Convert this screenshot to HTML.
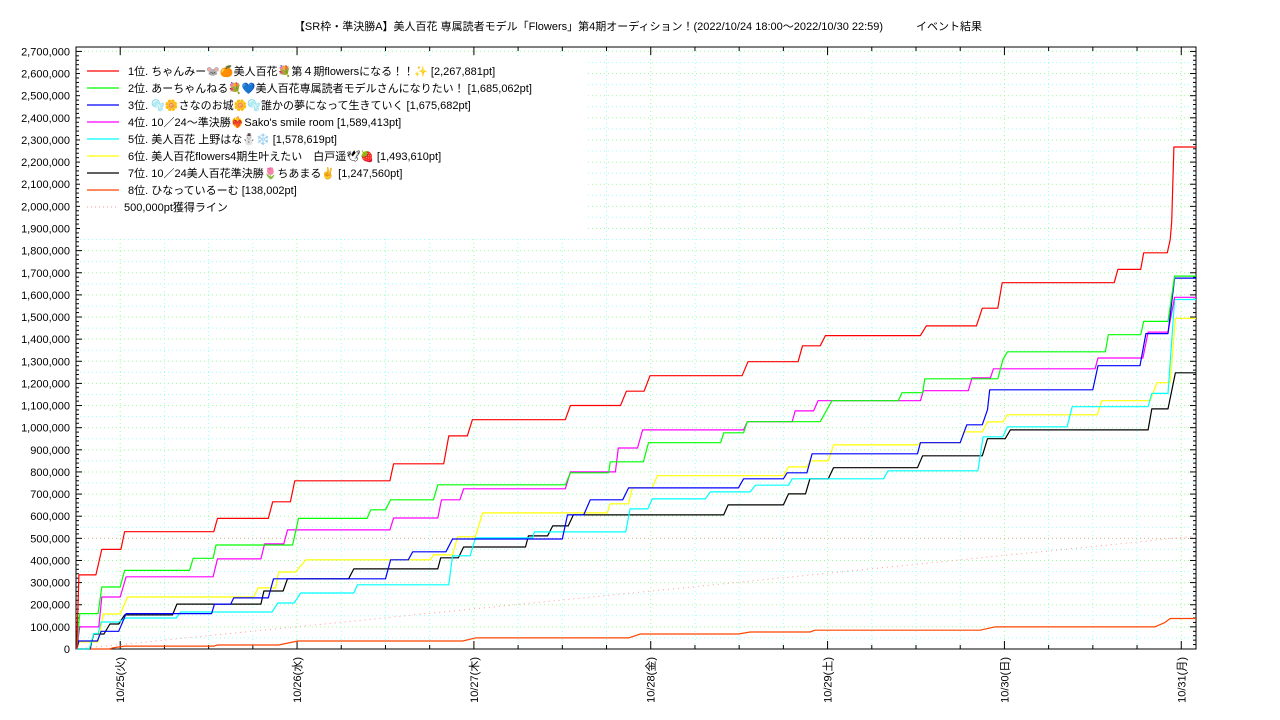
<!DOCTYPE html>
<html><head><meta charset="utf-8">
<style>
html,body{margin:0;padding:0;background:#fff;}
svg{display:block;font-family:"Liberation Sans","Noto Sans CJK JP",sans-serif;}
</style></head>
<body>
<svg id="chart" width="1280" height="720" viewBox="0 0 1280 720">
<text x="638" y="30" text-anchor="middle" font-size="11" fill="#000">【SR枠・準決勝A】美人百花 専属読者モデル「Flowers」第4期オーディション！(2022/10/24 18:00〜2022/10/30 22:59)　　　イベント結果</text>
<g id="grid"></g>
<g id="axes"></g>
<g id="series"></g>
<g id="legend"></g>
</svg>
<script>
// time in hours since 10/25 00:00, values in thousands of pt
const dayLabels = ["10/25(火)","10/26(水)","10/27(木)","10/28(金)","10/29(土)","10/30(日)","10/31(月)"];
const yTickValues = [0,100,200,300,400,500,600,700,800,900,1000,1100,1200,1300,1400,1500,1600,1700,1800,1900,2000,2100,2200,2300,2400,2500,2600,2700];
const seriesNames = [
 "1位. ちゃんみー🐭🍊美人百花💐第４期flowersになる！！✨ [2,267,881pt]",
 "2位. あーちゃんねる💐💙美人百花専属読者モデルさんになりたい！ [1,685,062pt]",
 "3位. 🫧🌼さなのお城🌼🫧誰かの夢になって生きていく [1,675,682pt]",
 "4位. 10／24〜準決勝❤️‍🔥Sako's smile room [1,589,413pt]",
 "5位. 美人百花 上野はな⛄️❄️ [1,578,619pt]",
 "6位. 美人百花flowers4期生叶えたい　白戸遥🕊🍓 [1,493,610pt]",
 "7位. 10／24美人百花準決勝🌷ちあまる✌️ [1,247,560pt]",
 "8位. ひなっているーむ [138,002pt]"
];
const seriesColors = ["#ff0000","#00ff00","#0000ff","#ff00ff","#00ffff","#ffff00","#000000","#ff4500"];
const t1 = [-5.9,-5.6,-3.3,-2.5,0.1,0.6,12.7,13.2,20.1,20.7,23.1,23.7,36.6,37.1,43.9,44.6,47.1,47.8,60.4,61.1,67.9,68.7,71.1,71.9,84.4,85.2,92.0,92.6,95.0,95.7,108.6,109.4,116.2,117.0,119.1,119.7,134.9,135.4,138.5,138.9,142.1,142.5,142.7,143.0,146];
const v1 = [0,335,335,450,450,530,530,590,590,665,665,760,760,837,837,963,963,1036,1036,1100,1100,1165,1165,1235,1235,1298,1298,1370,1370,1416,1416,1460,1460,1540,1540,1655,1655,1715,1715,1790,1790,1850,1930,2268,2268];
const t2 = [-5.9,-5.5,-3.0,-2.5,0.0,0.6,9.4,9.9,12.6,13.0,23.4,24.2,33.5,34.0,36.0,36.7,42.5,43.1,60.4,61.1,66.3,66.5,71.0,71.7,81.5,81.9,84.6,85.1,95.0,96.6,105.6,106.1,108.9,109.2,119.1,119.8,120.4,133.7,134.1,138.5,138.9,142.2,143.1,146];
const v2 = [0,160,160,280,280,355,355,410,410,470,470,590,590,629,629,674,674,742,742,796,796,846,846,932,932,977,977,1027,1027,1122,1122,1158,1158,1221,1221,1307,1343,1343,1420,1420,1480,1480,1685,1685];
const t3 = [-5.9,-5.6,-3.1,-2.6,-0.2,0.8,12.4,12.8,15.0,15.4,20.1,20.8,36.0,36.7,39.1,39.7,44.2,45.1,60.0,60.7,62.9,63.8,68.2,69.0,83.9,84.6,90.0,90.5,93.2,93.9,108.2,108.6,114.0,114.9,117.0,117.7,118.0,132.0,132.7,138.4,139.2,142.2,143.1,146];
const v3 = [0,36,36,80,80,160,160,203,203,231,231,317,317,403,403,439,439,497,497,606,606,674,674,728,728,769,769,796,796,882,882,932,932,1013,1013,1081,1171,1171,1280,1280,1425,1425,1676,1676];
const t4 = [-5.9,-5.5,-2.9,-2.5,0.0,0.8,12.6,13.2,19.1,19.6,22.2,22.7,36.6,37.1,43.1,43.6,46.1,46.6,60.4,61.1,67.2,67.6,70.2,70.9,84.6,85.1,91.2,91.6,94.1,94.7,108.6,109.0,115.1,115.6,118.1,118.5,132.3,132.7,138.8,139.5,142.2,143.1,146];
const v4 = [0,100,100,235,235,326,326,407,407,475,475,538,538,592,592,674,674,724,724,800,800,908,908,990,990,1027,1027,1076,1076,1122,1122,1167,1167,1225,1225,1266,1266,1315,1315,1432,1432,1589,1589];
const t5 = [-5.9,-4.2,-3.6,-3.0,-2.6,-0.2,0.8,7.6,8.2,20.6,21.4,23.6,24.5,31.7,32.2,44.6,45.1,47.5,48.2,56.0,56.2,68.6,69.2,71.6,72.2,79.4,80.1,85.5,86.2,90.7,91.2,103.6,104.2,116.4,117.1,119.8,120.4,128.5,129.2,139.5,140.0,142.2,143.1,146];
const v5 = [0,0,70,70,122,122,140,140,167,167,208,208,253,253,290,290,421,421,502,502,529,529,633,633,678,678,710,710,740,740,769,769,805,805,959,959,1004,1004,1095,1095,1155,1155,1579,1579];
const t6 = [-5.9,-5.5,-3.0,-2.3,0.0,1.0,18.1,18.7,21.1,21.5,23.8,25.2,42.1,42.5,45.1,45.8,48.2,49.2,66.1,66.5,69.0,69.5,72.2,72.9,90.0,90.7,93.2,93.6,96.1,96.8,108.2,108.6,114.0,114.5,117.0,117.7,119.8,120.4,132.6,133.2,139.8,140.7,142.5,143.2,146];
const v6 = [0,32,32,158,158,235,235,276,276,348,348,403,403,425,425,507,507,615,615,656,656,728,728,783,783,823,823,850,850,922,922,932,932,981,981,1026,1026,1058,1058,1122,1122,1203,1203,1494,1494];
const t7 = [-5.9,-4.1,-3.6,-2.2,-1.4,-0.2,0.6,7.1,7.7,19.1,19.5,22.1,22.7,31.0,31.7,43.1,43.5,45.9,46.6,55.0,55.4,58.0,58.7,60.8,61.5,81.9,82.5,90.0,90.7,93.0,93.6,96.1,96.8,108.2,108.9,117.0,117.7,120.1,120.8,139.5,140.0,142.2,143.2,146];
const v7 = [0,0,68,68,113,113,154,154,203,203,262,262,317,317,362,362,412,412,461,461,511,511,556,556,606,606,651,651,701,701,769,769,819,819,873,873,950,950,990,990,1085,1085,1248,1248];
const t8 = [-5.9,-1.5,-1.0,0.6,12.7,13.2,21.5,24.1,46.5,48.2,69.0,70.6,83.9,85.5,93.6,94.3,116.7,118.7,140.4,141.8,142.5,146];
const v8 = [0,0,5,13,13,18,18,36,36,50,50,68,68,77,77,85,85,100,100,120,138,138];
const targetTimes = [-6,143];
const targetValues = [0,500];
const targetLabel = "500,000pt獲得ライン";

const NS="http://www.w3.org/2000/svg";
const L=76,R=1196,T=47,B=649;
const tMin=-6, tMax=146, vMax=2720;
const xs=t=>L+(t-tMin)/(tMax-tMin)*(R-L);
const ys=v=>B-v/vMax*(B-T);
function mk(tag,attrs,parent){const e=document.createElementNS(NS,tag);for(const k in attrs)e.setAttribute(k,attrs[k]);parent.appendChild(e);return e;}
const grid=document.getElementById('grid'),axes=document.getElementById('axes'),ser=document.getElementById('series'),leg=document.getElementById('legend');

// horizontal grid
for(let v=50;v<vMax;v+=50){
  const ln=mk('line',{x1:L,x2:R,y1:ys(v),y2:ys(v),stroke:(v%100===0?(v===500?'#d8b08c':'#9f9'):'#9ff'),'stroke-width':1,'stroke-dasharray':'1,3'},grid);
  
  
}
// vertical grid
for(let h=0;h<tMax;h+=6){
  const ln=mk('line',{x1:xs(h),x2:xs(h),y1:T,y2:B,stroke:(h%24===0?'#9f9':'#9ff'),'stroke-width':1,'stroke-dasharray':'1,3'},grid);
  
  
}
// target line
{
  const extT=tMax, extV=targetValues[0]+(targetValues[1]-targetValues[0])*(extT-targetTimes[0])/(targetTimes[1]-targetTimes[0]);
  const ln=mk('line',{x1:xs(targetTimes[0]),y1:ys(targetValues[0]),x2:xs(extT),y2:ys(extV),stroke:'#f99','stroke-width':1,'stroke-dasharray':'1,4'},ser);
  
  
}
const allT=[t1,t2,t3,t4,t5,t6,t7,t8], allV=[v1,v2,v3,v4,v5,v6,v7,v8];
for(let i=7;i>=0;i--){
  const pts=allT[i].map((t,j)=>xs(t).toFixed(1)+','+ys(allV[i][j]).toFixed(1)).join(' ');
  const pl=mk('polyline',{points:pts,fill:'none',stroke:seriesColors[i],'stroke-width':1.2,'stroke-linejoin':'round'},ser);
  
  
}
// frame
{
  const r=mk('rect',{x:L,y:T,width:R-L,height:B-T,fill:'none',stroke:'#000','stroke-width':1},axes);
  
  
}
// y ticks
for(let v=0;v<=vMax;v+=20){
  const len=v%100===0?6:3;
  mk('line',{x1:L,x2:L+len,y1:ys(v),y2:ys(v),stroke:'#000'},axes);
  mk('line',{x1:R,x2:R-len,y1:ys(v),y2:ys(v),stroke:'#000'},axes);
}
yTickValues.forEach(v=>{
  const tx=mk('text',{x:70,y:ys(v)+4,'text-anchor':'end','font-size':11,fill:'#000'},axes);
  tx.textContent=(v*1000).toLocaleString('en-US');
  
  
});
// x ticks
for(let h=0;h<tMax;h+=6){
  const len=h%24===0?8:4;
  mk('line',{x1:xs(h),x2:xs(h),y1:B,y2:B-len,stroke:'#000'},axes);
  mk('line',{x1:xs(h),x2:xs(h),y1:T,y2:T+len,stroke:'#000'},axes);
}
dayLabels.forEach((d,i)=>{
  const x=xs(i*24)+4, y=657;
  const tx=mk('text',{x:x,y:y,transform:`rotate(-90 ${x} ${y})`,'text-anchor':'end','font-size':11,fill:'#000'},axes);
  tx.textContent=d;
  
  
});
// legend
{
  const bg=mk('rect',{x:80,y:58,width:505,height:180,fill:'#fff'},leg);
  
  
  seriesNames.forEach((n,i)=>{
    const y=71+i*17;
    const g=mk('g',{},leg);
    
    
    mk('line',{x1:87,x2:119,y1:y,y2:y,stroke:seriesColors[i],'stroke-width':1.2},g);
    const tx=mk('text',{x:128,y:y+4,'font-size':11,fill:'#000'},g);
    tx.textContent=n;
  });
  const y=71+8*17;
  const g=mk('g',{},leg);
  
  
  mk('line',{x1:87,x2:119,y1:y,y2:y,stroke:'#f99','stroke-width':1,'stroke-dasharray':'1,3'},g);
  const tx=mk('text',{x:124,y:y+4,'font-size':11,fill:'#000'},g);
  tx.textContent=targetLabel;
}
</script>
</body></html>
